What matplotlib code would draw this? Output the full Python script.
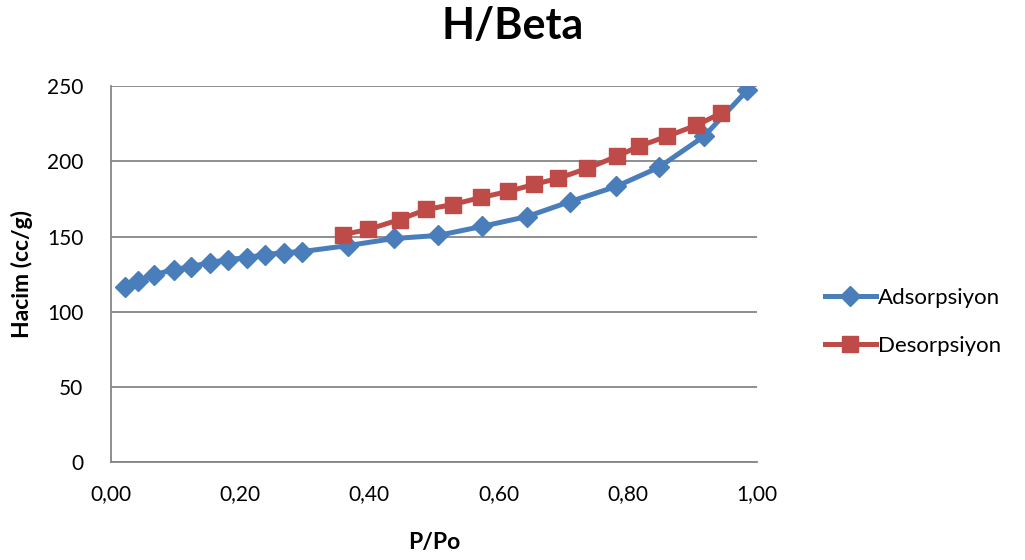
import matplotlib.pyplot as plt
from matplotlib.ticker import FuncFormatter

plt.rcParams['font.family'] = ['Lato', 'DejaVu Sans']

# adsorption branch
ads_p = [0.022, 0.042, 0.067, 0.098, 0.124, 0.153, 0.181, 0.211, 0.238, 0.268,
         0.296, 0.367, 0.438, 0.506, 0.574, 0.644, 0.711, 0.782, 0.848, 0.918, 0.985]
ads_v = [116.7, 120.7, 124.7, 128.0, 130.0, 132.7, 134.7, 136.0, 138.0, 139.3,
         140.0, 144.0, 148.7, 150.7, 156.7, 163.3, 173.3, 183.3, 196.0, 216.7, 247.3]

# desorption branch
des_p = [0.359, 0.398, 0.447, 0.488, 0.529, 0.573, 0.615, 0.655, 0.692, 0.737,
         0.783, 0.817, 0.861, 0.906, 0.944]
des_v = [151.3, 154.7, 161.3, 168.0, 171.3, 176.0, 180.0, 184.7, 188.7, 195.3,
         203.3, 210.0, 216.7, 224.0, 232.0]

fig = plt.figure(figsize=(10.25, 5.6), dpi=100)
ax = fig.add_axes([0.1083, 0.175, 0.6302, 0.671])

ax.plot(ads_p, ads_v, color='#4A7EBB', lw=3.6, marker='D', ms=10.5,
        label='Adsorpsiyon', zorder=3)
ax.plot(des_p, des_v, color='#BE4B48', lw=3.6, marker='s', ms=12,
        label='Desorpsiyon', zorder=3)

ax.set_xlim(0, 1)
ax.set_ylim(0, 250)
ax.set_xticks([0, 0.2, 0.4, 0.6, 0.8, 1.0])
ax.set_yticks(range(0, 251, 50))
ax.xaxis.set_major_formatter(FuncFormatter(lambda v, p: f'{v:.2f}'.replace('.', ',')))
ax.tick_params(length=0, labelsize=15)
ax.tick_params(axis='x', pad=16)
ax.tick_params(axis='y', pad=20)
ax.yaxis.grid(True, color='#868686', lw=1.3)
ax.set_axisbelow(True)
for s in ['top', 'right']:
    ax.spines[s].set_visible(False)
ax.spines['left'].set_color('#868686')
ax.spines['bottom'].set_color('#868686')
ax.spines['left'].set_linewidth(1.3)
ax.spines['bottom'].set_linewidth(1.3)

ax.set_xlabel('P/Po', fontsize=16.5, fontweight='bold', labelpad=20)
ax.set_ylabel('Hacim (cc/g)', fontsize=16.5, fontweight='bold', labelpad=10)
fig.suptitle('H/Beta', fontsize=31, fontweight='bold', y=0.99)

fig.legend(loc='center left', bbox_to_anchor=(0.785, 0.425), frameon=False,
           fontsize=16, handlelength=2.3, handletextpad=0.1, labelspacing=1.25)

fig.savefig('out.png', dpi=100)
